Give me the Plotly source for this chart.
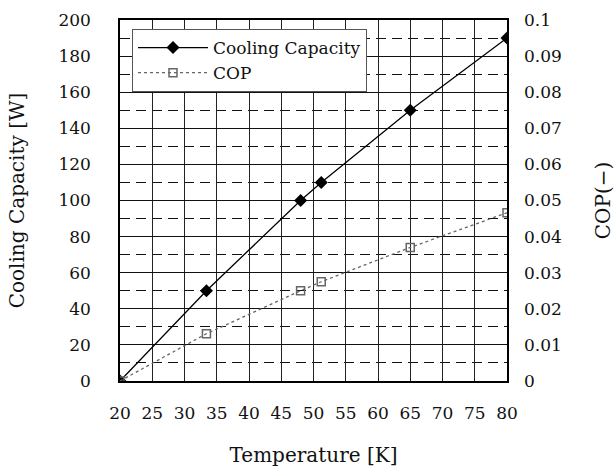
import plotly.graph_objects as go

temperature = [20, 33.4, 48, 51.2, 65, 80]
cooling_capacity = [0, 50, 100, 110, 150, 190]
cop_temperature = [20, 33.4, 48, 51.2, 65, 80]
cop = [0, 0.0131, 0.025, 0.0275, 0.037, 0.0466]

x_ticks = list(range(20, 81, 5))
font_family = "DejaVu Serif"
fs = 17

fig = go.Figure()
fig.add_trace(go.Scatter(
    x=temperature, y=cooling_capacity, name="Cooling Capacity",
    mode="lines+markers",
    line=dict(color="black", width=1.3),
    marker=dict(symbol="diamond", size=10, color="black"),
))
fig.add_trace(go.Scatter(
    x=cop_temperature, y=cop, name="COP", yaxis="y2",
    mode="lines+markers",
    line=dict(color="#666666", width=1.3, dash="dot"),
    marker=dict(symbol="square-open", size=8, color="#666666", line=dict(width=1.5)),
))

fig.update_layout(
    width=615, height=468,
    margin=dict(l=120, r=108, t=20, b=87),
    paper_bgcolor="white", plot_bgcolor="white",
    font=dict(family=font_family, size=fs, color="#111111"),
    showlegend=True,
    legend=dict(
        x=0.031, y=0.975, xanchor="left", yanchor="top",
        bgcolor="white", bordercolor="#555555", borderwidth=1,
        font=dict(size=fs), itemwidth=70, tracegroupgap=0,
    ),
    xaxis=dict(
        range=[20, 80], tickvals=x_ticks, ticks="",
        showgrid=True, gridcolor="#222222", gridwidth=1,
        showline=True, linecolor="black", linewidth=1.5, mirror=True,
        zeroline=False, ticklabelstandoff=16, automargin=False,
        title=dict(text="Temperature [K]", standoff=26),
    ),
    yaxis=dict(
        range=[0, 200], dtick=20, ticks="",
        showgrid=True, gridcolor="#111111", gridwidth=1,
        minor=dict(dtick=10, showgrid=True, gridcolor="#111111", griddash="10px,6px", gridwidth=1),
        showline=True, linecolor="black", linewidth=1.5, mirror=True,
        zeroline=False, ticklabelstandoff=24, automargin=False,
        title=dict(text="Cooling Capacity [W]", standoff=28),
    ),
    yaxis2=dict(
        range=[0, 0.1], dtick=0.01, ticks="", overlaying="y", side="right",
        showgrid=False, zeroline=False, ticklabelstandoff=16, automargin=False,
        title=dict(text="COP(−)", standoff=38),
    ),
)

fig.write_html("out.html")
